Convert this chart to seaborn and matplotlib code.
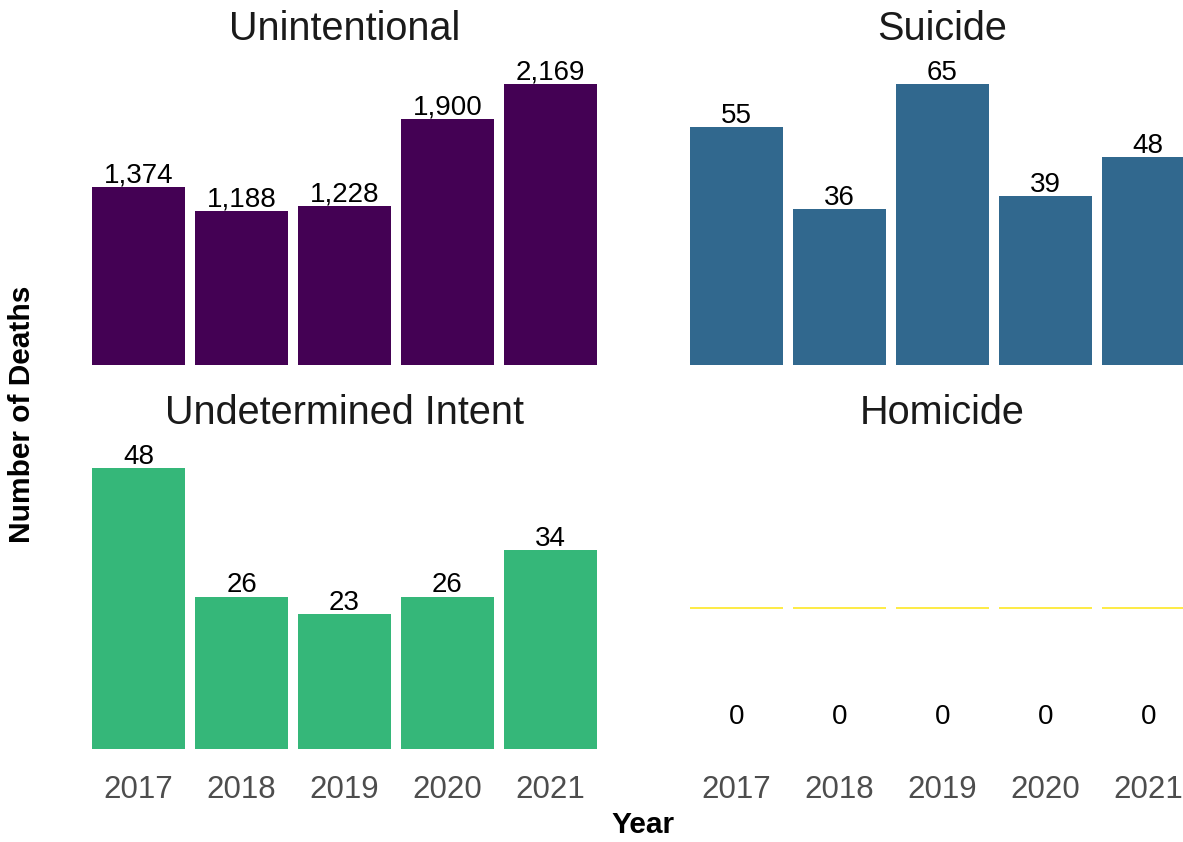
import numpy as np
import pandas as pd
import matplotlib
matplotlib.use("Agg")
import matplotlib.pyplot as plt
import seaborn as sns

# ---- data ----
years = ["2017", "2018", "2019", "2020", "2021"]
panels = ["Unintentional", "Suicide", "Undetermined Intent", "Homicide"]
unintentional = [1374, 1188, 1228, 1900, 2169]
suicide = [55, 36, 65, 39, 48]
undetermined = [48, 26, 23, 26, 34]
homicide = [0, 0, 0, 0, 0]
colors = ["#440154", "#31688E", "#35B779", "#FDE725"]

values = [unintentional, suicide, undetermined, homicide]

sns.set_theme(style="white")
plt.rcParams["font.family"] = ["Liberation Sans", "DejaVu Sans"]

W, H = 1183, 842
fig = plt.figure(figsize=(W / 100, H / 100), dpi=100)

# panel geometry in pixels (left, top, right, bottom)
pw = 515
ph = 317
lefts = [87, 684.8]
bottoms = [365, 749]


def px_axes(left, bottom):
    return fig.add_axes([left / W, (H - bottom) / H, pw / W, ph / H])


bar_px = 281  # pixel height of the tallest bar
for k, (name, vals, col) in enumerate(zip(panels, values, colors)):
    row, colidx = divmod(k, 2)
    ax = px_axes(lefts[colidx], bottoms[row])
    df = pd.DataFrame({"year": years, "deaths": vals})
    is_zero = max(vals) == 0
    sns.barplot(data=df, x="year", y="deaths", order=years, color=col,
                saturation=1, width=0.9, ax=ax,
                edgecolor=col if is_zero else "none",
                linewidth=1.2 if is_zero else 0)
    ax.set_xlim(-0.5, 4.5)
    if is_zero:
        ax.set_ylim(-1, 1.253)
    else:
        ax.set_ylim(0, max(vals) * ph / bar_px)
    for i, v in enumerate(vals):
        if is_zero:
            ax.annotate(f"{v:,}", xy=(i, v), xytext=(0, -78.3),
                        textcoords="offset points", ha="center", va="center",
                        fontsize=20, color="black")
        else:
            ax.annotate(f"{v:,}", xy=(i, v), xytext=(0, 3.2),
                        textcoords="offset points", ha="center", va="baseline",
                        fontsize=20, color="black")
    ax.set_title(name, fontsize=28.5, color="#1A1A1A", pad=5.8)
    ax.set_xlabel("")
    ax.set_ylabel("")
    ax.set_yticks([])
    ax.tick_params(axis="x", length=0, pad=18.5, labelsize=22.5,
                   labelcolor="#4D4D4D")
    if row == 0:
        ax.set_xticklabels([])
    for s in ax.spines.values():
        s.set_visible(False)
    ax.set_facecolor("white")
    ax.grid(False)

fig.text(643.5 / W, 1 - 825 / H, "Year", ha="center", va="center",
         fontsize=21.5, fontweight="bold", color="black")
fig.text(22 / W, 1 - 414 / H, "Number of Deaths", ha="center", va="center",
         rotation=90, fontsize=21.5, fontweight="bold", color="black")

fig.savefig("out.png", dpi=100, facecolor="white")
